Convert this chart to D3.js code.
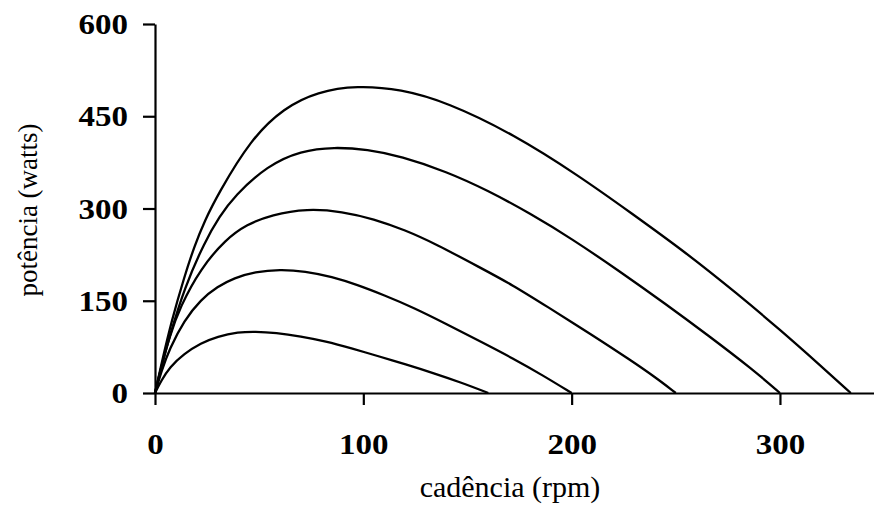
<!DOCTYPE html>
<html>
<head>
<meta charset="utf-8">
<script src="https://cdn.jsdelivr.net/npm/d3@7"></script>
<style>
  html, body { margin: 0; padding: 0; background: #fff; }
  svg { display: block; }
  .tick text { font-family: "Liberation Serif", "Times New Roman", serif; font-weight: bold; font-size: 30px; fill: #000; }
  .title { font-family: "Liberation Serif", "Times New Roman", serif; fill: #000; }
</style>
</head>
<body>
<svg id="chart" width="874" height="510"></svg>
<script>
// Power (watts) vs pedalling cadence (rpm), one curve per peak power level
const curva100 = [[0,0],[3,20],[7,42],[14,64],[22,81],[30,92],[40,99],[48,100],[58,98],[70,92],[82,84],[94,73],[108,59],[120,47],[134,32],[147,17],[160,0]];
const curva200 = [[0,0],[3,35],[7,72],[14,118],[22,152],[30,173],[38,187],[48,197],[60,201],[72,198],[85,189],[97,176],[110,159],[124,139],[140,112],[156,84],[172,56],[186,29],[200,0]];
const curva300 = [[0,0],[3,42],[7,92],[12,140],[22,203],[34,250],[44,274],[56,290],[73,300],[90,295],[105,283],[120,265],[135,242],[156,204],[172,175],[188,141],[210,94],[228,54],[240,26],[250,0]];
const curva400 = [[0,0],[3,42],[7,92],[14,170],[24,247],[31,287],[38,320],[54,370],[70,394],[86,400],[102,396],[118,385],[140,360],[160,329],[180,292],[200,251],[223,198],[245,145],[265,95],[287,38],[300,0]];
const curva500 = [[0,0],[3,46],[8,118],[14,188],[19,240],[24,281],[30,322],[46,413],[62,464],[78,490],[97,500],[118,494],[140,473],[172,421],[204,352],[228,294],[255,228],[280,160],[300,103],[319,46],[334,0]];
const curvas = [curva100, curva200, curva300, curva400, curva500];

const xTicks = [0, 100, 200, 300];
const yTicks = [0, 150, 300, 450, 600];
const xTitle = "cadência (rpm)";
const yTitle = "potência (watts)";

const svg = d3.select("#chart");

const x = d3.scaleLinear().domain([0, 345]).range([155, 873.7]);
const y = d3.scaleLinear().domain([0, 600]).range([393, 24]);

// axes
const xAxis = svg.append("g")
  .attr("transform", `translate(0,${y(0)})`)
  .call(d3.axisBottom(x).tickValues(xTicks).tickFormat(d3.format("d"))
    .tickSize(12).tickSizeOuter(0).tickPadding(28));

const yAxis = svg.append("g")
  .attr("transform", `translate(${x(0)},0)`)
  .call(d3.axisLeft(y).tickValues(yTicks).tickFormat(d3.format("d"))
    .tickSize(12).tickSizeOuter(0).tickPadding(15));

[xAxis, yAxis].forEach(g => {
  g.select(".domain").attr("stroke", "#000").attr("stroke-width", 2.2);
  g.selectAll(".tick line").attr("stroke", "#000").attr("stroke-width", 2.2);
  g.attr("font-size", null).attr("font-family", null);
});

// slightly wide bold numerals
xAxis.selectAll(".tick text").attr("transform", "scale(1.1,1)");
yAxis.selectAll(".tick text")
  .attr("x", 0)
  .attr("transform", "translate(-27,0) scale(1.1,1)");

// curves
const line = d3.line()
  .x(d => x(d[0]))
  .y(d => y(d[1]))
  .curve(d3.curveBasis);

svg.append("g")
  .selectAll("path")
  .data(curvas)
  .join("path")
  .attr("d", line)
  .attr("fill", "none")
  .attr("stroke", "#000")
  .attr("stroke-width", 2.3)
  .attr("stroke-linejoin", "round");

// axis titles
svg.append("text")
  .attr("class", "title")
  .attr("font-size", 30)
  .attr("x", 510)
  .attr("y", 497)
  .attr("text-anchor", "middle")
  .text(xTitle);

svg.append("text")
  .attr("class", "title")
  .attr("font-size", 27)
  .attr("transform", "translate(37,210) rotate(-90)")
  .attr("text-anchor", "middle")
  .text(yTitle);
</script>
</body>
</html>
